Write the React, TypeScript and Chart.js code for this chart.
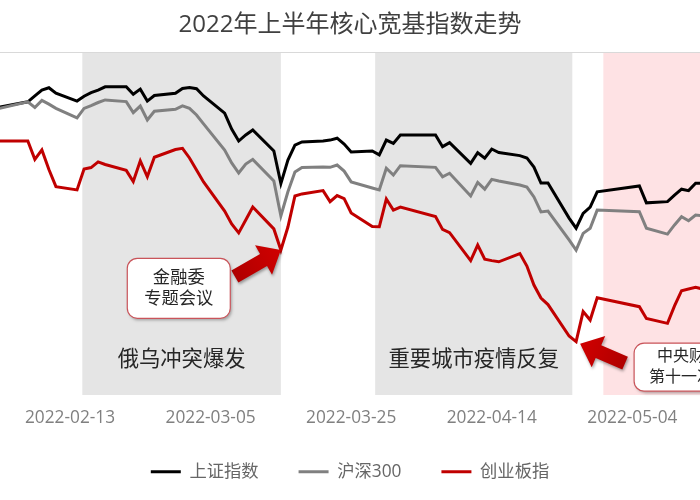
import React, { useEffect, useRef } from "react";
import { Chart, registerables } from "chart.js";

Chart.register(...registerables);

const FONT = "'Open Sans', 'Noto Sans CJK SC', sans-serif";

// ---- data ----
const tradeDates = [
  "2022-01-28", "2022-02-07", "2022-02-08", "2022-02-09", "2022-02-10", "2022-02-11",
  "2022-02-14", "2022-02-15", "2022-02-16", "2022-02-17", "2022-02-18",
  "2022-02-21", "2022-02-22", "2022-02-23", "2022-02-24", "2022-02-25",
  "2022-02-28", "2022-03-01", "2022-03-02", "2022-03-03", "2022-03-04",
  "2022-03-07", "2022-03-08", "2022-03-09", "2022-03-10", "2022-03-11",
  "2022-03-14", "2022-03-15", "2022-03-16", "2022-03-17", "2022-03-18",
  "2022-03-21", "2022-03-22", "2022-03-23", "2022-03-24", "2022-03-25",
  "2022-03-28", "2022-03-29", "2022-03-30", "2022-03-31", "2022-04-01",
  "2022-04-06", "2022-04-07", "2022-04-08",
  "2022-04-11", "2022-04-12", "2022-04-13", "2022-04-14", "2022-04-15",
  "2022-04-18", "2022-04-19", "2022-04-20", "2022-04-21", "2022-04-22",
  "2022-04-25", "2022-04-26", "2022-04-27", "2022-04-28", "2022-04-29",
  "2022-05-05", "2022-05-06",
  "2022-05-09", "2022-05-10", "2022-05-11", "2022-05-12", "2022-05-13",
  "2022-05-16",
];

const shanghai = [
  3372, 3428, 3453, 3478, 3488, 3465,
  3431, 3452, 3467, 3478, 3492,
  3492, 3460, 3482, 3431, 3455,
  3464, 3485, 3489, 3484, 3453,
  3380, 3312, 3261, 3287, 3308,
  3219, 3080, 3180, 3244, 3257,
  3261, 3265, 3273, 3248, 3214,
  3219, 3202, 3265, 3251, 3287,
  3287, 3237, 3254,
  3166, 3211, 3188, 3227, 3212,
  3199, 3189, 3150, 3082, 3082,
  2933, 2890, 2953, 2980, 3045,
  3070, 2998,
  3003, 3031, 3056, 3050, 3081,
  3081,
];

const hs300 = [
  3359, 3428, 3404, 3434, 3418, 3400,
  3360, 3400, 3412, 3425, 3436,
  3429, 3382, 3410, 3351, 3388,
  3396, 3411, 3400, 3372, 3334,
  3223, 3168, 3125, 3163, 3183,
  3091, 2942, 3045, 3129, 3148,
  3150, 3149, 3159, 3133, 3087,
  3061, 3053, 3145, 3116, 3156,
  3149, 3109, 3124,
  3027, 3085, 3056, 3098, 3091,
  3074, 3065, 3023, 2959, 2963,
  2840, 2797, 2868, 2890, 2967,
  2960, 2890,
  2865, 2904, 2939, 2922, 2946,
  2939,
];

const chinext = [
  3261, 3261, 3183, 3223, 3140, 3067,
  3053, 3142, 3148, 3172, 3161,
  3136, 3089, 3177, 3109, 3192,
  3225, 3230, 3189, 3138, 3087,
  2963, 2908, 2870, 2925, 2980,
  2887, 2797, 2895, 3027, 3036,
  3050, 3003, 3029, 3016, 2955,
  2897, 2896, 3014, 2967, 2980,
  2940, 2885, 2871,
  2752, 2818, 2758, 2752, 2747,
  2782, 2729, 2648, 2593, 2565,
  2431, 2407, 2535, 2499, 2594,
  2556, 2506,
  2485, 2559, 2624, 2631, 2638,
  2618,
];

const seriesNames = ["上证指数", "沪深300", "创业板指"];
const seriesColors = ["#000000", "#808080", "#c00000"];

const tickDates = ["2022-02-13", "2022-03-05", "2022-03-25", "2022-04-14", "2022-05-04"];
const xRange = ["2022-02-03T01", "2022-05-13T15"];
const yRange = [2180, 3640];

const grayBands = [
  ["2022-02-14T18", "2022-03-15T00"],
  ["2022-03-28T10", "2022-04-25T11"],
];
const pinkBands = [["2022-04-29T21", "2022-06-30T00"]];
const bandLabels = ["俄乌冲突爆发", "重要城市疫情反复"];

const calloutDates = ["2022-03-15", "2022-04-26"];
const calloutTexts = [
  ["金融委", "专题会议"],
  ["中央财经委", "第十一次会议"],
];

const toDay = (s: string) => {
  const [date, hh] = s.split("T");
  const [y, m, d] = date.split("-").map(Number);
  return Date.UTC(y, m - 1, d, hh ? Number(hh) : 0) / 86400000;
};
const fmtDay = (v: number) => new Date(Math.round(v) * 86400000).toISOString().slice(0, 10);

// ---- drawing helpers (styles/positions) ----
const calloutStyle = [
  { tip: [0, 0], tail: [-46, 26.5], box: [-153.6, 8.3, 103, 60], size: 17.3, gap: 21.5 },
  { tip: [4, 2], tail: [49, 21.5], box: [58, 1.5, 126, 48], size: 16, gap: 21 },
];

function arrowPath(ctx: CanvasRenderingContext2D, tx: number, ty: number, sx: number, sy: number) {
  const shaftW = 14, headW = 34, headL = 20;
  const dx = tx - sx, dy = ty - sy;
  const len = Math.hypot(dx, dy);
  const ux = dx / len, uy = dy / len;
  const px = -uy, py = ux;
  const bx = tx - ux * headL, by = ty - uy * headL;
  ctx.beginPath();
  ctx.moveTo(sx + (px * shaftW) / 2, sy + (py * shaftW) / 2);
  ctx.lineTo(bx + (px * shaftW) / 2, by + (py * shaftW) / 2);
  ctx.lineTo(bx + (px * headW) / 2, by + (py * headW) / 2);
  ctx.lineTo(tx, ty);
  ctx.lineTo(bx - (px * headW) / 2, by - (py * headW) / 2);
  ctx.lineTo(bx - (px * shaftW) / 2, by - (py * shaftW) / 2);
  ctx.lineTo(sx - (px * shaftW) / 2, sy - (py * shaftW) / 2);
  ctx.closePath();
}

const bandsPlugin = {
  id: "bands",
  beforeDatasetsDraw(chart: any) {
    const { ctx, chartArea } = chart;
    const { top, bottom, left, right } = chartArea;
    const x = chart.scales.x;
    ctx.save();
    const fillBand = (s: string, e: string, color: string) => {
      const x0 = Math.max(left, x.getPixelForValue(toDay(s)));
      const x1 = Math.min(right, x.getPixelForValue(toDay(e)));
      if (x1 <= x0) return;
      ctx.fillStyle = color;
      ctx.fillRect(x0, top, x1 - x0, bottom - top);
    };
    grayBands.forEach(([s, e]) => fillBand(s, e, "#e5e5e5"));
    pinkBands.forEach(([s, e]) => fillBand(s, e, "#fee2e4"));

    ctx.strokeStyle = "#d9d9d9";
    ctx.lineWidth = 1;
    ctx.beginPath();
    ctx.moveTo(left, top + 0.5);
    ctx.lineTo(right, top + 0.5);
    ctx.stroke();

    ctx.font = `21.3px ${FONT}`;
    ctx.fillStyle = "#262626";
    ctx.textAlign = "center";
    ctx.textBaseline = "middle";
    grayBands.forEach(([s, e], i) => {
      const cx = (x.getPixelForValue(toDay(s)) + x.getPixelForValue(toDay(e))) / 2;
      ctx.fillText(bandLabels[i], cx, bottom - 35);
    });
    ctx.restore();
  },
  afterDatasetsDraw(chart: any) {
    const { ctx } = chart;
    const x = chart.scales.x;
    const y = chart.scales.y;
    calloutDates.forEach((d, i) => {
      const idx = tradeDates.indexOf(d);
      const ax = x.getPixelForValue(toDay(d));
      const ay = y.getPixelForValue(chinext[idx]);
      const st = calloutStyle[i];
      const tx = ax + st.tip[0], ty = ay + st.tip[1];
      const sx = ax + st.tail[0], sy = ay + st.tail[1];
      ctx.save();
      // arrow
      arrowPath(ctx, tx, ty, sx, sy);
      const g = ctx.createLinearGradient(sx, sy, tx, ty);
      g.addColorStop(0, "#b00000");
      g.addColorStop(1, "#d00000");
      ctx.shadowColor = "rgba(0,0,0,0.35)";
      ctx.shadowBlur = 3;
      ctx.shadowOffsetX = 1;
      ctx.shadowOffsetY = 2;
      ctx.fillStyle = g;
      ctx.fill();
      // box
      const [bx, by, bw, bh] = st.box;
      const left = ax + bx, top = ay + by;
      ctx.beginPath();
      ctx.roundRect(left, top, bw, bh, 10);
      ctx.fillStyle = "#ffffff";
      ctx.shadowColor = "rgba(0,0,0,0.3)";
      ctx.shadowBlur = 3;
      ctx.shadowOffsetX = 1.5;
      ctx.shadowOffsetY = 2;
      ctx.fill();
      ctx.shadowColor = "transparent";
      ctx.strokeStyle = "#c9545a";
      ctx.lineWidth = 1.2;
      ctx.stroke();
      // text
      ctx.font = `${st.size}px ${FONT}`;
      ctx.fillStyle = "#262626";
      ctx.textAlign = "center";
      ctx.textBaseline = "middle";
      const cy = top + bh / 2;
      const lines = calloutTexts[i];
      lines.forEach((t, k) => {
        ctx.fillText(t, left + bw / 2, cy + (k - (lines.length - 1) / 2) * st.gap);
      });
      ctx.restore();
    });
  },
};

export default function App() {
  const ref = useRef<HTMLCanvasElement | null>(null);

  useEffect(() => {
    if (!ref.current) return;
    const xs = tradeDates.map(toDay);
    const series = [shanghai, hs300, chinext];
    const orders = [1, 0, 2];
    const chart = new Chart(ref.current, {
      type: "line",
      data: {
        datasets: series.map((vals, i) => ({
          label: seriesNames[i],
          data: vals.map((v, k) => ({ x: xs[k], y: v })),
          borderColor: seriesColors[i],
          backgroundColor: seriesColors[i],
          borderWidth: 3,
          pointRadius: 0,
          tension: 0,
          order: orders[i],
        })),
      },
      options: {
        responsive: false,
        devicePixelRatio: 1,
        animation: false,
        layout: { padding: { top: 0, bottom: 9.7, left: 0, right: 0 } },
        scales: {
          x: {
            type: "linear",
            min: toDay(xRange[0]),
            max: toDay(xRange[1]),
            grid: { display: false, drawTicks: false },
            border: { display: false },
            afterBuildTicks: (scale: any) => {
              scale.ticks = tickDates.map((d) => ({ value: toDay(d) }));
            },
            afterFit: (scale: any) => {
              scale.height = 28;
            },
            ticks: {
              autoSkip: false,
              maxRotation: 0,
              padding: 12.6,
              color: "#808080",
              font: { size: 17.3, family: FONT },
              callback: (v: any) => fmtDay(Number(v)),
            },
          },
          y: {
            display: false,
            min: yRange[0],
            max: yRange[1],
          },
        },
        plugins: {
          title: {
            display: true,
            text: "2022年上半年核心宽基指数走势",
            color: "#404040",
            font: { size: 24, family: FONT, weight: "normal" },
            padding: { top: 10.6, bottom: 12.6 },
          },
          legend: {
            position: "bottom",
            labels: {
              usePointStyle: true,
              pointStyle: "line",
              pointStyleWidth: 30,
              padding: 40,
              color: "#666666",
              font: { size: 17.3, family: FONT },
              sort: (a: any, b: any) => a.datasetIndex - b.datasetIndex,
            },
          },
          tooltip: { enabled: false },
        },
      },
      plugins: [bandsPlugin],
    } as any);
    return () => chart.destroy();
  }, []);

  return (
    <div style={{ position: "absolute", left: 0, top: 0, width: 700, height: 500, background: "#fff" }}>
      <canvas ref={ref} width={700} height={500} style={{ display: "block", width: 700, height: 500 }} />
    </div>
  );
}
